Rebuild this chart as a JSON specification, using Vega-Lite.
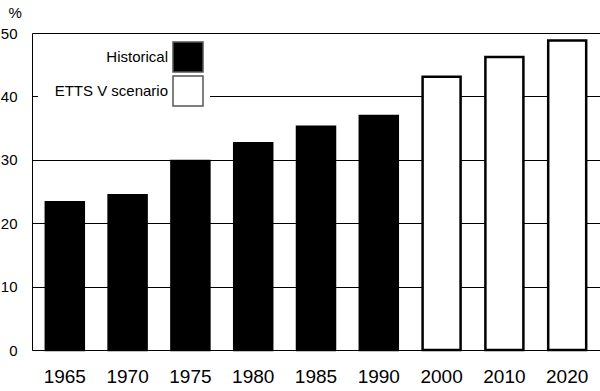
{
  "$schema": "https://vega.github.io/schema/vega-lite/v6.json",
  "width": 568,
  "height": 317,
  "autosize": {"type": "none"},
  "padding": {"left": 32, "top": 33, "right": 0, "bottom": 41},
  "background": "white",
  "data": {
    "values": [
      {"year": "1965", "value": 23.3, "type": "Historical"},
      {"year": "1970", "value": 24.4, "type": "Historical"},
      {"year": "1975", "value": 29.8, "type": "Historical"},
      {"year": "1980", "value": 32.6, "type": "Historical"},
      {"year": "1985", "value": 35.2, "type": "Historical"},
      {"year": "1990", "value": 36.9, "type": "Historical"},
      {"year": "2000", "value": 43.1, "type": "ETTS V scenario"},
      {"year": "2010", "value": 46.2, "type": "ETTS V scenario"},
      {"year": "2020", "value": 48.8, "type": "ETTS V scenario"}
    ]
  },
  "mark": {"type": "bar", "stroke": "black", "strokeWidth": 2.5},
  "encoding": {
    "x": {
      "field": "year",
      "type": "ordinal",
      "sort": null,
      "scale": {"paddingInner": 0.395, "paddingOuter": 0.22},
      "axis": {
        "title": null,
        "labelAngle": 0,
        "labelFontSize": 19,
        "labelFont": "Liberation Sans",
        "labelColor": "black",
        "labelDx": -2,
        "ticks": false,
        "domainColor": "black",
        "domainWidth": 1,
        "labelPadding": 17,
        "grid": false
      }
    },
    "y": {
      "field": "value",
      "type": "quantitative",
      "scale": {"domain": [0, 50], "nice": false},
      "axis": {
        "values": [0, 10, 20, 30, 40, 50],
        "title": "%",
        "titleAngle": 0,
        "titleFont": "Liberation Sans",
        "titleFontSize": 15,
        "titleFontWeight": "normal",
        "titleColor": "black",
        "titleX": -24,
        "titleY": -16,
        "titleAlign": "left",
        "titleBaseline": "alphabetic",
        "labelFont": "Liberation Sans",
        "labelFontSize": 15,
        "labelColor": "black",
        "labelPadding": 15,
        "ticks": false,
        "domainColor": "black",
        "gridColor": "black",
        "gridOpacity": 1,
        "gridWidth": 1
      }
    },
    "fill": {
      "field": "type",
      "type": "nominal",
      "scale": {"domain": ["Historical", "ETTS V scenario"], "range": ["black", "white"]},
      "legend": {
        "title": null,
        "orient": "none",
        "legendX": 6,
        "legendY": 4,
        "symbolType": "square",
        "symbolSize": 900,
        "symbolStrokeColor": "#555555",
        "symbolStrokeWidth": 1.5,
        "symbolOffset": 130,
        "labelAlign": "right",
        "labelOffset": -36,
        "labelFont": "Liberation Sans",
        "labelFontSize": 15,
        "labelColor": "black",
        "rowPadding": -5,
        "fillColor": "white",
        "padding": 4
      }
    }
  },
  "config": {"view": {"stroke": null}}
}
